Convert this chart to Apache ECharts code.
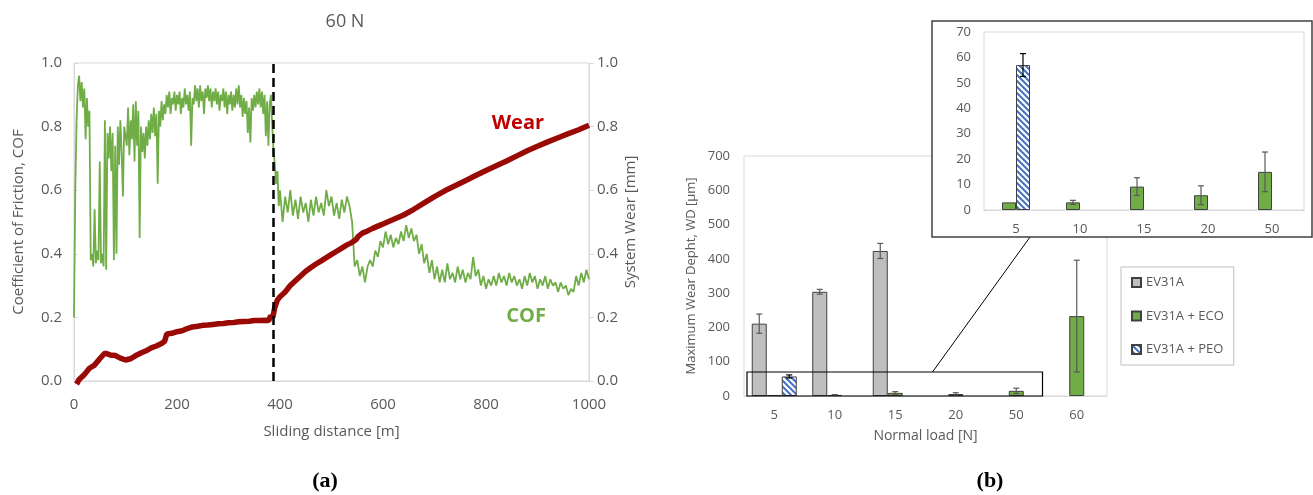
<!DOCTYPE html>
<html>
<head>
<meta charset="utf-8">
<script src="https://cdn.jsdelivr.net/npm/echarts@6/dist/echarts.min.js"></script>
<style>
  html, body { margin: 0; padding: 0; background: #fff; }
  #main { width: 1313px; height: 495px; }
</style>
</head>
<body>
<div id="main"></div>
<script>
// (a) coefficient of friction, read every 2.5 m up to 397.5 m, then every 5 m
var cofHead = [
  0.20,0.60,0.82,0.93,0.96,0.88,0.94,0.86,0.92,0.76,
  0.89,0.80,0.85,0.38,0.40,0.36,0.54,0.37,0.41,0.38,
  0.69,0.37,0.40,0.36,0.82,0.35,0.78,0.70,0.80,0.66,
  0.78,0.38,0.74,0.40,0.80,0.68,0.82,0.72,0.58,0.80,
  0.80,0.74,0.86,0.71,0.82,0.76,0.87,0.69,0.88,0.74,
  0.85,0.45,0.80,0.72,0.78,0.70,0.80,0.74,0.82,0.76,
  0.84,0.78,0.86,0.77,0.84,0.62,0.85,0.80,0.88,0.82,
  0.87,0.84,0.90,0.86,0.91,0.84,0.89,0.87,0.91,0.85,
  0.90,0.87,0.91,0.84,0.89,0.86,0.92,0.87,0.90,0.85,
  0.91,0.74,0.89,0.87,0.93,0.88,0.92,0.86,0.93,0.88,
  0.91,0.84,0.92,0.89,0.93,0.88,0.92,0.86,0.91,0.88,
  0.92,0.87,0.91,0.85,0.90,0.88,0.92,0.86,0.91,0.84,
  0.90,0.87,0.91,0.85,0.90,0.86,0.92,0.87,0.93,0.86,
  0.90,0.83,0.89,0.84,0.88,0.78,0.86,0.75,0.89,0.85,
  0.90,0.86,0.91,0.87,0.92,0.86,0.91,0.84,0.90,0.77,
  0.88,0.74,0.87,0.90,0.80,0.72,0.68,0.62,0.66,0.55
];
var cofTail = [
  0.60,0.50,0.58,0.53,0.60,0.52,0.57,0.51,0.58,0.53,
  0.56,0.50,0.57,0.52,0.58,0.53,0.56,0.52,0.60,0.55,
  0.58,0.52,0.56,0.51,0.57,0.53,0.58,0.55,0.50,0.36,
  0.38,0.33,0.36,0.31,0.36,0.38,0.36,0.41,0.39,0.44,
  0.42,0.47,0.43,0.46,0.42,0.45,0.43,0.47,0.44,0.49,
  0.45,0.48,0.44,0.46,0.40,0.43,0.37,0.40,0.34,0.38,
  0.32,0.36,0.31,0.35,0.31,0.37,0.32,0.34,0.31,0.36,
  0.32,0.35,0.31,0.34,0.32,0.39,0.33,0.35,0.30,0.33,
  0.29,0.32,0.30,0.33,0.30,0.34,0.31,0.33,0.30,0.34,
  0.31,0.33,0.30,0.32,0.29,0.33,0.30,0.34,0.31,0.33,
  0.29,0.32,0.30,0.33,0.29,0.32,0.30,0.31,0.28,0.31,
  0.29,0.30,0.27,0.29,0.28,0.33,0.30,0.34,0.31,0.35,
  0.32
];
var wearDist = [5,10,20,30,40,50,60,70,80,90,100,110,120,130,140,150,160,170,176,180,
  190,200,210,220,230,240,250,260,270,280,290,300,310,320,330,340,350,360,370,378,
  382,386,390,395,400,410,420,430,440,450,460,470,480,490,500,510,520,530,540,548,
  552,560,570,580,590,600,620,640,660,680,700,720,740,760,780,800,820,840,860,880,
  900,920,940,960,980,1000];
var wearVal = [-0.01,0.005,0.02,0.04,0.05,0.07,0.088,0.082,0.08,0.072,0.066,0.07,0.08,0.088,0.095,0.104,0.11,0.118,0.125,0.148,
  0.15,0.155,0.158,0.165,0.17,0.172,0.175,0.176,0.178,0.18,0.181,0.183,0.184,0.186,0.187,0.188,0.19,0.19,0.191,0.19,
  0.205,0.2,0.232,0.255,0.265,0.28,0.3,0.315,0.33,0.345,0.357,0.368,0.378,0.388,0.398,0.408,0.418,0.428,0.436,0.445,
  0.455,0.465,0.472,0.48,0.487,0.494,0.508,0.522,0.54,0.56,0.58,0.598,0.614,0.63,0.646,0.662,0.677,0.692,0.708,0.724,
  0.738,0.752,0.765,0.778,0.79,0.804];
var transitionDist = 387;

// (b) maximum wear depth
var loads = ['5', '10', '15', '20', '50', '60'];
var insetLoads = ['5', '10', '15', '20', '50'];
var wdBare = [211, 304, 423, null, null, null];
var wdBareErr = [28, 7, 22, null, null, null];
var wdEco = [3, 3, 9.2, 5.8, 15, 233];
var wdEcoErr = [0, 0.8, 3.5, 3.7, 7.8, 163];
var wdPeo = [57, null, null, null, null, null];
var wdPeoErr = [4.5, null, null, null, null, null];

var FONT = 'Open Sans';
var TXT = '#595959';
var LINE = '#d9d9d9';

function hatch() {
    var c = document.createElement('canvas');
    c.width = 6; c.height = 6;
    var g = c.getContext('2d');
    g.fillStyle = '#ffffff';
    g.fillRect(0, 0, 6, 6);
    g.strokeStyle = '#4472c4';
    g.lineWidth = 2;
    g.beginPath();
    g.moveTo(-1, -1); g.lineTo(7, 7);
    g.moveTo(-1, 5); g.lineTo(1, 7);
    g.moveTo(5, -1); g.lineTo(7, 1);
    g.stroke();
    return c;
}
var peoFill = { image: hatch(), repetition: 'repeat' };

function cut(arr, n) { return arr.slice(0, n).map(function (v) { return v == null ? '-' : v; }); }

var cofData = cofHead.map(function (v, i) { return [i * 2.5, v]; })
    .concat(cofTail.map(function (v, i) { return [400 + i * 5, v]; }));
var wearData = wearDist.map(function (d, i) { return [d, wearVal[i]]; });

var barBorder = { borderColor: '#404040', borderWidth: 1 };
var serif = { fontFamily: 'Liberation Serif', fontSize: 22, color: '#000' };

var chart = echarts.init(document.getElementById('main'));
chart.setOption({
    animation: false,
    textStyle: { fontFamily: FONT },
    title: [
        { text: '60 N', left: 340, top: 8, textAlign: 'center',
          textStyle: { color: TXT, fontSize: 18, fontWeight: 'normal', fontFamily: FONT } },
        { text: '{p|(}{b|a}{p|)}', left: 320, top: 465, textAlign: 'center',
          textStyle: { rich: { p: serif, b: Object.assign({ fontWeight: 'bold' }, serif) } } },
        { text: '{p|(}{b|b}{p|)}', left: 985, top: 465, textAlign: 'center',
          textStyle: { rich: { p: serif, b: Object.assign({ fontWeight: 'bold' }, serif) } } }
    ],
    legend: {
        data: ['EV31A', 'EV31A + ECO', 'EV31A + PEO'],
        orient: 'vertical', left: 1121, top: 267, width: 111,
        icon: 'rect', itemWidth: 9, itemHeight: 9, itemGap: 20.5,
        padding: [9, 10, 9, 10],
        borderColor: '#bfbfbf', borderWidth: 1,
        textStyle: { color: TXT, fontSize: 13, fontFamily: FONT }
    },
    grid: [
        { left: 74, top: 63, width: 515, height: 318, show: true, borderColor: LINE, borderWidth: 1 },
        { left: 744, top: 156, width: 363, height: 240, show: true, borderColor: LINE, borderWidth: 1 },
        { left: 984, top: 32, width: 320, height: 178, show: true, borderColor: LINE, borderWidth: 1, z: 6 }
    ],
    xAxis: [
        { type: 'value', gridIndex: 0, min: 0, max: 1000, interval: 200,
          name: 'Sliding distance [m]', nameLocation: 'middle', nameGap: 43,
          nameTextStyle: { color: TXT, fontSize: 15, fontFamily: FONT },
          axisLine: { lineStyle: { color: LINE } }, axisTick: { show: false },
          axisLabel: { color: TXT, fontSize: 15, margin: 16, fontFamily: FONT,
                       formatter: function (v) { return String(v); } },
          splitLine: { show: false } },
        { type: 'category', gridIndex: 1, data: loads,
          name: 'Normal load [N]', nameLocation: 'middle', nameGap: 33,
          nameTextStyle: { color: TXT, fontSize: 14, fontFamily: FONT },
          axisLine: { lineStyle: { color: LINE } },
          axisTick: { inside: true, length: 4, lineStyle: { color: LINE } },
          axisLabel: { color: TXT, fontSize: 13, margin: 13, fontFamily: FONT } },
        { type: 'category', gridIndex: 2, data: insetLoads, z: 7,
          axisLine: { lineStyle: { color: LINE } },
          axisTick: { inside: true, length: 4, lineStyle: { color: LINE } },
          axisLabel: { color: TXT, fontSize: 13, margin: 13, fontFamily: FONT } }
    ],
    yAxis: [
        { type: 'value', gridIndex: 0, min: 0, max: 1, interval: 0.2,
          name: 'Coefficient of Friction, COF', nameLocation: 'middle', nameGap: 48,
          nameTextStyle: { color: TXT, fontSize: 15, fontFamily: FONT },
          axisLine: { show: true, lineStyle: { color: LINE } },
          axisTick: { show: true, inside: true, length: 4, lineStyle: { color: LINE } },
          axisLabel: { color: TXT, fontSize: 15, margin: 12, fontFamily: FONT,
                       formatter: function (v) { return v.toFixed(1); } },
          splitLine: { show: false } },
        { type: 'value', gridIndex: 0, position: 'right', min: 0, max: 1, interval: 0.2,
          name: 'System Wear [mm]', nameLocation: 'middle', nameGap: 34,
          nameTextStyle: { color: TXT, fontSize: 15, fontFamily: FONT },
          axisLine: { show: true, lineStyle: { color: LINE } },
          axisTick: { show: true, length: 5, lineStyle: { color: LINE } },
          axisLabel: { color: TXT, fontSize: 15, margin: 8, fontFamily: FONT,
                       formatter: function (v) { return v.toFixed(1); } },
          splitLine: { show: false } },
        { type: 'value', gridIndex: 1, min: 0, max: 700, interval: 100,
          name: 'Maximum Wear Depht, WD [µm]', nameLocation: 'middle', nameGap: 46,
          nameTextStyle: { color: TXT, fontSize: 13, fontFamily: FONT },
          axisLine: { show: false }, axisTick: { show: false },
          axisLabel: { color: TXT, fontSize: 13, margin: 14, fontFamily: FONT },
          splitLine: { show: false } },
        { type: 'value', gridIndex: 2, min: 0, max: 70, interval: 10, z: 7,
          axisLine: { show: false }, axisTick: { show: false },
          axisLabel: { color: TXT, fontSize: 13, margin: 13, fontFamily: FONT },
          splitLine: { show: false } }
    ],
    series: [
        { type: 'line', name: 'COF', xAxisIndex: 0, yAxisIndex: 0, data: cofData,
          symbol: 'none', lineStyle: { color: '#70ad47', width: 1.8 }, z: 2,
          markLine: { silent: true, symbol: 'none', label: { show: false },
                      lineStyle: { color: '#000', type: [9, 5], width: 2.5 },
                      data: [{ xAxis: transitionDist }] } },
        { type: 'line', name: 'Wear', xAxisIndex: 0, yAxisIndex: 1, data: wearData, clip: false,
          symbol: 'none', lineStyle: { color: '#9a0a05', width: 5.5 }, z: 3 },

        { type: 'bar', name: 'EV31A', xAxisIndex: 1, yAxisIndex: 2, data: cut(wdBare, 6),
          barWidth: 15, barGap: '0%', itemStyle: Object.assign({ color: '#bfbfbf' }, barBorder) },
        { type: 'bar', name: 'EV31A + ECO', xAxisIndex: 1, yAxisIndex: 2, data: cut(wdEco, 6),
          barWidth: 15, barGap: '0%', itemStyle: Object.assign({ color: '#70ad47' }, barBorder) },
        { type: 'bar', name: 'EV31A + PEO', xAxisIndex: 1, yAxisIndex: 2, data: cut(wdPeo, 6),
          barWidth: 15, barGap: '0%', itemStyle: Object.assign({ color: peoFill }, barBorder) },

        { type: 'bar', name: 'EV31A + ECO', xAxisIndex: 2, yAxisIndex: 3, data: cut(wdEco, 5), z: 8,
          barWidth: 14, barGap: '0%', itemStyle: Object.assign({ color: '#70ad47' }, barBorder) },
        { type: 'bar', name: 'EV31A + PEO', xAxisIndex: 2, yAxisIndex: 3, data: cut(wdPeo, 5), z: 8,
          barWidth: 14, barGap: '0%', itemStyle: Object.assign({ color: peoFill }, barBorder) }
    ]
});

// error bars and annotations, placed through the axes
var px = function (g, pt) { return chart.convertToPixel({ gridIndex: g }, pt); };

function errBars(g, vals, errs, n, offset, color, z) {
    var out = [];
    for (var i = 0; i < n; i++) {
        if (vals[i] == null || errs[i] == null || errs[i] === 0) continue;
        var lo = px(g, [i, vals[i] - errs[i]]);
        var hi = px(g, [i, vals[i] + errs[i]]);
        var x = lo[0] + offset, c = 3;
        var st = { stroke: color, lineWidth: 1.2 };
        out.push({ type: 'line', z: z, shape: { x1: x, y1: lo[1], x2: x, y2: hi[1] }, style: st });
        out.push({ type: 'line', z: z, shape: { x1: x - c, y1: hi[1], x2: x + c, y2: hi[1] }, style: st });
        out.push({ type: 'line', z: z, shape: { x1: x - c, y1: lo[1], x2: x + c, y2: lo[1] }, style: st });
    }
    return out;
}

var band = px(1, [1, 0])[0] - px(1, [0, 0])[0];
var zx0 = px(1, [0, 0])[0] - band / 2 + 3;
var zx1 = px(1, [4, 0])[0] + band / 2 - 4;
var zy0 = px(1, [0, 70])[1];
var zy1 = px(1, [0, 0])[1];
var linkX = px(1, [2, 0])[0] + band / 2 + 7;
var insetEnd = px(2, [0, 0])[0] + 14;
var wearLbl = px(0, [862, 0.81]);
var cofLbl = px(0, [878, 0.205]);

var gfx = [
    { type: 'rect', z: 5, shape: { x: 932, y: 21, width: 380, height: 216 },
      style: { fill: '#fff', stroke: '#404040', lineWidth: 1.5 } },
    { type: 'rect', z: 4, shape: { x: zx0, y: zy0, width: zx1 - zx0, height: zy1 - zy0 },
      style: { fill: 'none', stroke: '#000', lineWidth: 1.2 } },
    { type: 'line', z: 4, shape: { x1: linkX, y1: zy0, x2: insetEnd, y2: 237 },
      style: { stroke: '#000', lineWidth: 1 } },
    { type: 'text', z: 4, x: wearLbl[0], y: wearLbl[1],
      style: { text: 'Wear', fill: '#c00000', font: 'bold 20px "Open Sans"', align: 'center', verticalAlign: 'middle' } },
    { type: 'text', z: 4, x: cofLbl[0], y: cofLbl[1],
      style: { text: 'COF', fill: '#70ad47', font: 'bold 20px "Open Sans"', align: 'center', verticalAlign: 'middle' } }
];
gfx = gfx
    .concat(errBars(1, wdBare, wdBareErr, 6, -15, TXT, 3))
    .concat(errBars(1, wdEco, wdEcoErr, 6, 0, TXT, 3))
    .concat(errBars(1, wdPeo, wdPeoErr, 6, 15, '#000', 3))
    .concat(errBars(2, wdEco, wdEcoErr, 5, -7, TXT, 9))
    .concat(errBars(2, wdPeo, wdPeoErr, 5, 7, '#000', 9));

chart.setOption({ graphic: gfx });
</script>
</body>
</html>
